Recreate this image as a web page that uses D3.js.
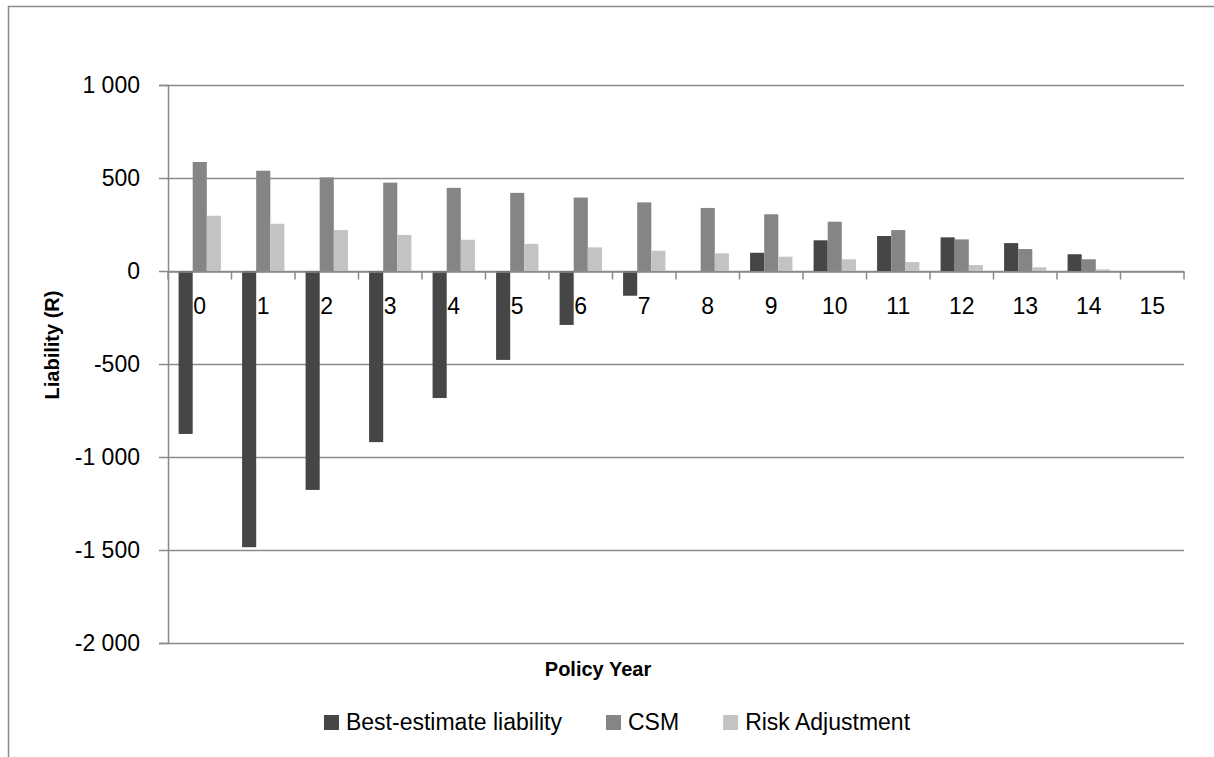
<!DOCTYPE html>
<html>
<head>
<meta charset="utf-8">
<script src="https://cdn.jsdelivr.net/npm/d3@7/dist/d3.min.js"></script>
<style>
  html, body { margin: 0; padding: 0; background: #fff; }
  svg { display: block; }
  text { font-family: "Liberation Sans", Arial, sans-serif; fill: #000; }
</style>
</head>
<body>
<svg id="chart" width="1214" height="757"></svg>
<script>
const categories = ["0","1","2","3","4","5","6","7","8","9","10","11","12","13","14","15"];
const bestEstimate = [-876, -1485, -1177, -920, -683, -478, -290, -133, 0, 98, 165, 188, 181, 150, 90, 0];
const csm = [586, 539, 503, 475, 447, 420, 395, 369, 339, 305, 265, 220, 170, 118, 63, 0];
const riskAdj = [297, 254, 220, 194, 168, 146, 127, 109, 95, 77, 63, 48, 32, 20, 9, 0];
const yTicks = [-2000, -1500, -1000, -500, 0, 500, 1000];
const seriesNames = ["Best-estimate liability", "CSM", "Risk Adjustment"];
const seriesColors = ["#464646", "#858585", "#c3c3c3"];

const seriesData = [bestEstimate, csm, riskAdj];

const svg = d3.select("#chart");
const plot = { left: 168, right: 1184, top: 85, bottom: 643 };
const FONT = "Liberation Sans, Arial, sans-serif";

// outer chart border (extends beyond the visible frame)
svg.append("rect")
  .attr("x", 8.5).attr("y", 6.5)
  .attr("width", 1300).attr("height", 900)
  .attr("fill", "none").attr("stroke", "#8a8a8a").attr("stroke-width", 1.5);

const x = d3.scaleBand().domain(categories).range([plot.left, plot.right]).paddingInner(0).paddingOuter(0);
const y = d3.scaleLinear().domain([-2000, 1000]).range([plot.bottom, plot.top]);

const locale = d3.formatLocale({ decimal: ".", thousands: "\u00a0", grouping: [3], currency: ["", ""], minus: "-" });
const fmt = locale.format(",d");

// gridlines
svg.append("g").selectAll("line").data(yTicks).join("line")
  .attr("x1", plot.left).attr("x2", plot.right)
  .attr("y1", d => Math.round(y(d)) + 0.5).attr("y2", d => Math.round(y(d)) + 0.5)
  .attr("stroke", "#8a8a8a").attr("stroke-width", 1.5);

// y axis
const yAxis = d3.axisLeft(y).tickValues(yTicks).tickFormat(fmt).tickSize(9).tickPadding(19);
const gy = svg.append("g").attr("transform", `translate(${plot.left},0)`).call(yAxis);
gy.select(".domain").attr("stroke", "#8a8a8a").attr("stroke-width", 1.5);
gy.selectAll(".tick line").attr("stroke", "#8a8a8a").attr("stroke-width", 1.5);
gy.selectAll(".tick text").attr("font-size", 23).attr("font-family", FONT).attr("fill", "#000");

// bars
const barW = x.bandwidth() / 4.5;
const groupOffset = (x.bandwidth() - 3 * barW) / 2;
seriesData.forEach((vals, si) => {
  svg.append("g").selectAll("rect").data(vals.map((v, i) => ({ v, c: categories[i] })))
    .join("rect")
    .attr("x", d => x(d.c) + groupOffset + si * barW)
    .attr("width", barW)
    .attr("y", d => y(Math.max(0, d.v)))
    .attr("height", d => Math.abs(y(d.v) - y(0)))
    .attr("fill", seriesColors[si]);
});

// category axis at zero
const xAxis = d3.axisBottom(x).tickSize(0).tickPadding(0);
const gx = svg.append("g").attr("transform", `translate(0,${Math.round(y(0)) + 0.5})`).call(xAxis);
gx.select(".domain").attr("stroke", "#8a8a8a").attr("stroke-width", 1.5);
gx.selectAll(".tick text").attr("font-size", 23).attr("y", 42).attr("dy", null).attr("font-family", FONT).attr("fill", "#000");
// boundary tick marks
const bounds = categories.map(c => x(c)).concat([plot.right]);
gx.append("g").selectAll("line").data(bounds).join("line")
  .attr("x1", d => d).attr("x2", d => d).attr("y1", 0).attr("y2", 8)
  .attr("stroke", "#8a8a8a").attr("stroke-width", 1.5);

// axis titles
svg.append("text")
  .attr("transform", `translate(52,345) rotate(-90)`)
  .attr("text-anchor", "middle").attr("dominant-baseline", "central")
  .attr("font-size", 20).attr("font-weight", "bold")
  .text("Liability (R)");

svg.append("text")
  .attr("x", 598).attr("y", 676)
  .attr("text-anchor", "middle")
  .attr("font-size", 20).attr("font-weight", "bold")
  .text("Policy Year");

// legend
const legend = svg.append("g");
const items = [];
seriesNames.forEach((name, i) => {
  const g = legend.append("g");
  g.append("rect").attr("x", 0).attr("y", -15).attr("width", 15).attr("height", 15).attr("fill", seriesColors[i]);
  const t = g.append("text").attr("x", 22).attr("y", 0).attr("font-size", 23).text(name);
  items.push({ g, w: 22 + t.node().getComputedTextLength() });
});
const gap = 44;
const totalW = d3.sum(items, d => d.w) + gap * (items.length - 1);
let lx = 617 - totalW / 2;
items.forEach(it => { it.g.attr("transform", `translate(${lx},730)`); lx += it.w + gap; });
</script>
</body>
</html>
